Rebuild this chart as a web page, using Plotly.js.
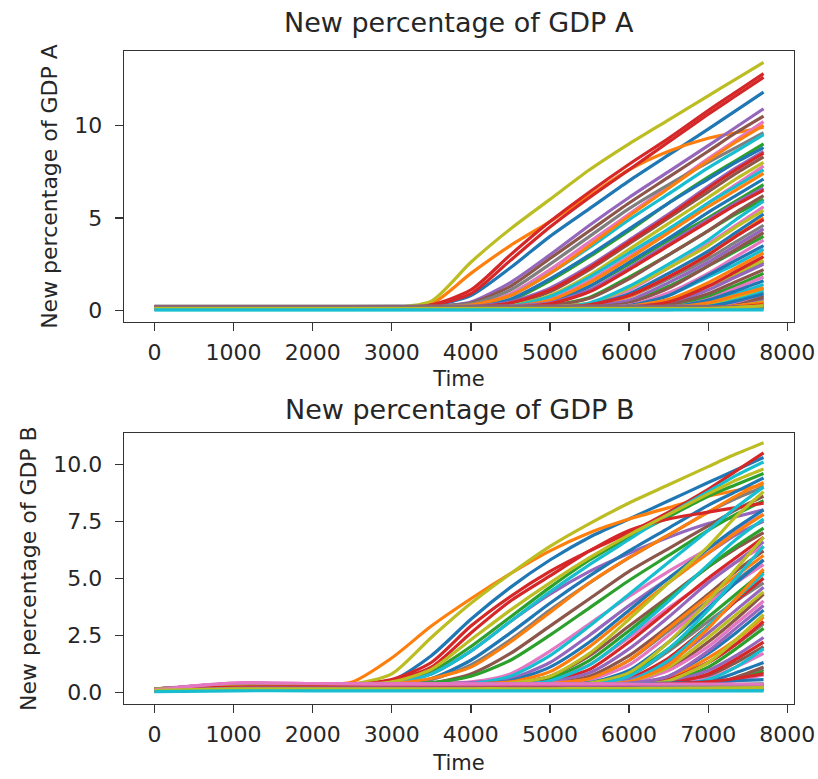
<!DOCTYPE html>
<html>
<head>
<meta charset="utf-8">
<script src="https://cdn.plot.ly/plotly-3.0.1.min.js"></script>
<style>html,body{margin:0;padding:0;background:#fff;}#chart{width:818px;height:779px;}</style>
</head>
<body>
<div id="chart"></div>
<script>
// Time samples
const TIME_A = [0, 2000, 3000, 3500, 4000, 4500, 5000, 5500, 6000, 6500, 7000, 7350, 7700];
const TIME_B = [0, 1000, 2000, 2500, 3000, 3500, 4000, 4500, 5000, 5500, 6000, 6500, 7000, 7350, 7700];
const X_TICKS = [0, 1000, 2000, 3000, 4000, 5000, 6000, 7000, 8000];
const Y_TICKS_A = [0, 5, 10];
const Y_TICKS_B = [0, 2.5, 5, 7.5, 10];

// New percentage of GDP A (one row per region)
const GDP_A = [
[0.13,0.13,0.15,0.25,0.8,2.3,4.0,5.5,7.0,8.4,9.8,10.8,11.8],
[0.14,0.14,0.18,0.35,2.0,3.5,4.8,6.2,7.6,8.6,9.3,9.6,9.9],
[0.12,0.12,0.13,0.14,0.2,0.55,1.6,2.9,4.3,5.8,7.2,8.1,9.0],
[0.15,0.15,0.18,0.3,1.1,3.0,4.8,6.4,7.9,9.3,10.8,11.8,12.8],
[0.16,0.16,0.17,0.2,0.45,1.5,3.0,4.6,6.1,7.5,8.9,9.9,10.9],
[0.18,0.18,0.19,0.22,0.4,1.3,2.8,4.3,5.8,7.2,8.6,9.6,10.5],
[0.1,0.1,0.11,0.13,0.25,0.9,2.2,3.7,5.2,6.7,8.2,9.2,10.2],
[0.2,0.2,0.21,0.23,0.35,1.1,2.5,4.0,5.5,6.8,8.0,8.8,9.6],
[0.12,0.12,0.15,0.5,2.6,4.4,6.0,7.6,9.0,10.3,11.6,12.5,13.4],
[0.06,0.06,0.07,0.09,0.2,0.8,2.0,3.4,4.9,6.3,7.7,8.6,9.5],
[0.09,0.09,0.1,0.11,0.18,0.6,1.7,3.0,4.4,5.8,7.1,8.0,8.8],
[0.15,0.15,0.16,0.18,0.28,0.8,2.0,3.5,5.1,6.6,8.1,9.1,10.0],
[0.11,0.11,0.12,0.12,0.14,0.2,0.45,1.3,2.5,3.8,5.0,5.9,6.8],
[0.14,0.14,0.16,0.28,0.9,2.7,4.5,6.1,7.6,9.1,10.6,11.6,12.6],
[0.17,0.17,0.17,0.18,0.22,0.45,1.2,2.4,3.8,5.2,6.7,7.7,8.6],
[0.13,0.13,0.13,0.14,0.17,0.35,1.0,2.2,3.6,5.0,6.4,7.4,8.3],
[0.07,0.07,0.07,0.08,0.1,0.2,0.6,1.6,2.9,4.3,5.8,6.8,7.8],
[0.19,0.19,0.19,0.19,0.2,0.21,0.25,0.35,0.75,1.7,2.8,3.7,4.6],
[0.1,0.1,0.1,0.11,0.13,0.25,0.8,1.9,3.3,4.7,6.1,7.1,8.0],
[0.05,0.05,0.05,0.06,0.08,0.22,0.75,1.8,3.1,4.4,5.8,6.7,7.6],
[0.08,0.08,0.08,0.08,0.1,0.15,0.45,1.3,2.6,3.9,5.3,6.2,7.1],
[0.14,0.14,0.14,0.14,0.16,0.22,0.55,1.5,2.8,4.2,5.6,6.5,7.4],
[0.1,0.1,0.1,0.1,0.11,0.13,0.25,0.7,1.8,3.0,4.3,5.2,6.0],
[0.16,0.16,0.16,0.17,0.2,0.4,1.1,2.3,3.7,5.1,6.6,7.6,8.5],
[0.18,0.18,0.18,0.18,0.19,0.23,0.4,1.1,2.3,3.6,4.9,5.8,6.6],
[0.12,0.12,0.12,0.12,0.13,0.15,0.25,0.65,1.7,3.0,4.3,5.3,6.2],
[0.09,0.09,0.09,0.09,0.1,0.11,0.16,0.35,1.1,2.3,3.6,4.6,5.6],
[0.2,0.2,0.2,0.2,0.2,0.2,0.21,0.23,0.28,0.55,1.3,1.9,2.6],
[0.11,0.11,0.11,0.11,0.12,0.13,0.18,0.4,1.2,2.3,3.5,4.5,5.4],
[0.06,0.06,0.06,0.06,0.07,0.08,0.13,0.4,1.3,2.5,3.8,4.9,5.9],
[0.1,0.1,0.1,0.1,0.1,0.11,0.14,0.28,0.9,2.0,3.2,4.2,5.2],
[0.15,0.15,0.15,0.15,0.15,0.16,0.18,0.28,0.75,1.8,3.0,4.0,5.0],
[0.13,0.13,0.13,0.13,0.13,0.13,0.15,0.2,0.45,1.3,2.4,3.2,4.0],
[0.15,0.15,0.15,0.15,0.16,0.18,0.35,1.0,2.2,3.5,4.8,5.7,6.5],
[0.17,0.17,0.17,0.17,0.17,0.17,0.19,0.24,0.55,1.5,2.6,3.5,4.4],
[0.14,0.14,0.14,0.14,0.14,0.14,0.15,0.19,0.4,1.2,2.4,3.3,4.2],
[0.08,0.08,0.08,0.08,0.08,0.08,0.09,0.12,0.28,0.95,2.0,2.9,3.8],
[0.2,0.2,0.2,0.2,0.2,0.2,0.2,0.2,0.2,0.22,0.5,0.85,1.2],
[0.12,0.12,0.12,0.12,0.12,0.12,0.12,0.13,0.17,0.5,1.3,2.0,2.7],
[0.05,0.05,0.05,0.05,0.05,0.05,0.06,0.08,0.2,0.8,1.8,2.5,3.3],
[0.09,0.09,0.09,0.09,0.09,0.09,0.1,0.12,0.25,0.8,1.9,2.7,3.5],
[0.16,0.16,0.16,0.16,0.16,0.16,0.16,0.17,0.22,0.6,1.5,2.3,3.1],
[0.11,0.11,0.11,0.11,0.11,0.11,0.11,0.11,0.12,0.22,0.75,1.35,2.0],
[0.14,0.14,0.14,0.14,0.14,0.15,0.17,0.3,0.8,1.8,3.0,4.0,4.9],
[0.18,0.18,0.18,0.18,0.18,0.18,0.18,0.18,0.2,0.4,1.1,1.8,2.5],
[0.15,0.15,0.15,0.15,0.15,0.15,0.15,0.15,0.16,0.3,0.9,1.55,2.2],
[0.07,0.07,0.07,0.07,0.07,0.07,0.07,0.07,0.07,0.14,0.6,1.2,1.8],
[0.21,0.21,0.21,0.21,0.21,0.21,0.21,0.21,0.21,0.21,0.23,0.33,0.5],
[0.1,0.1,0.1,0.1,0.1,0.1,0.1,0.1,0.1,0.1,0.28,0.65,1.1],
[0.05,0.05,0.05,0.05,0.05,0.05,0.05,0.05,0.05,0.08,0.45,0.9,1.4],
[0.1,0.1,0.1,0.1,0.1,0.1,0.1,0.1,0.1,0.14,0.55,1.05,1.6],
[0.15,0.15,0.15,0.15,0.15,0.15,0.15,0.15,0.15,0.17,0.4,0.8,1.2],
[0.12,0.12,0.12,0.12,0.12,0.12,0.12,0.12,0.12,0.12,0.2,0.45,0.8],
[0.16,0.16,0.16,0.16,0.16,0.16,0.16,0.16,0.18,0.45,1.3,2.1,2.9],
[0.17,0.17,0.17,0.17,0.17,0.17,0.17,0.17,0.17,0.17,0.19,0.35,0.65],
[0.14,0.14,0.14,0.14,0.14,0.14,0.14,0.14,0.14,0.14,0.17,0.38,0.7],
[0.08,0.08,0.08,0.08,0.08,0.08,0.08,0.08,0.08,0.08,0.15,0.45,0.9],
[0.22,0.22,0.22,0.22,0.22,0.22,0.22,0.22,0.22,0.22,0.22,0.22,0.22],
[0.13,0.13,0.13,0.13,0.13,0.13,0.13,0.13,0.13,0.13,0.13,0.22,0.45],
[0.04,0.04,0.04,0.04,0.04,0.04,0.04,0.04,0.04,0.04,0.2,0.55,1.0],
[0.09,0.09,0.09,0.09,0.09,0.09,0.09,0.09,0.09,0.09,0.2,0.5,0.9],
[0.16,0.16,0.16,0.16,0.16,0.16,0.16,0.16,0.16,0.16,0.16,0.25,0.4],
[0.12,0.12,0.12,0.12,0.12,0.12,0.12,0.12,0.12,0.12,0.12,0.12,0.15],
[0.1,0.1,0.1,0.1,0.1,0.1,0.1,0.1,0.1,0.1,0.1,0.18,0.3],
[0.19,0.19,0.19,0.19,0.19,0.19,0.19,0.19,0.19,0.19,0.19,0.19,0.19],
[0.17,0.17,0.17,0.17,0.17,0.17,0.17,0.17,0.17,0.17,0.17,0.17,0.22],
[0.06,0.06,0.06,0.06,0.06,0.06,0.06,0.06,0.06,0.06,0.06,0.06,0.06],
[0.14,0.14,0.14,0.14,0.14,0.14,0.14,0.14,0.14,0.14,0.14,0.14,0.14],
[0.1,0.1,0.1,0.1,0.1,0.1,0.1,0.1,0.1,0.1,0.1,0.15,0.25],
[0.02,0.02,0.02,0.02,0.02,0.02,0.02,0.02,0.02,0.02,0.02,0.02,0.02]
];

// New percentage of GDP B (one row per region)
const GDP_B = [
[0.1,0.22,0.27,0.3,0.5,1.6,3.2,4.6,5.8,6.8,7.6,8.4,9.2,9.75,10.3],
[0.15,0.3,0.33,0.45,1.5,2.9,4.1,5.2,6.2,7.0,7.6,8.1,8.6,8.85,9.1],
[0.12,0.25,0.28,0.3,0.4,0.9,2.0,3.3,4.6,5.8,6.8,7.7,8.6,9.1,9.6],
[0.14,0.3,0.32,0.36,0.55,1.3,2.9,4.2,5.3,6.2,7.0,7.9,8.9,9.7,10.5],
[0.1,0.32,0.34,0.36,0.45,0.8,1.8,3.1,4.3,5.3,6.1,6.8,7.4,7.7,8.0],
[0.08,0.2,0.22,0.24,0.28,0.4,0.8,1.7,2.9,4.1,5.3,6.3,7.3,8.0,8.6],
[0.12,0.38,0.36,0.35,0.36,0.38,0.45,0.8,1.8,3.0,4.2,5.3,6.3,7.1,7.8],
[0.14,0.27,0.28,0.3,0.34,0.55,1.2,2.3,3.6,4.8,5.9,6.9,7.9,8.5,9.0],
[0.12,0.26,0.3,0.35,0.8,2.4,3.9,5.2,6.4,7.4,8.3,9.1,9.9,10.45,10.95],
[0.06,0.2,0.25,0.28,0.36,0.8,1.8,3.1,4.4,5.6,6.7,7.8,8.8,9.5,10.1],
[0.09,0.24,0.27,0.29,0.35,0.6,1.4,2.6,3.9,5.1,6.2,7.2,8.2,8.8,9.4],
[0.13,0.28,0.3,0.32,0.38,0.6,1.1,2.2,3.5,4.8,5.9,6.9,7.9,8.6,9.2],
[0.11,0.27,0.29,0.3,0.33,0.42,0.7,1.4,2.5,3.7,4.9,6.0,7.1,7.8,8.4],
[0.13,0.28,0.3,0.34,0.5,1.1,2.6,4.0,5.1,6.2,7.1,7.6,7.9,8.1,8.3],
[0.1,0.3,0.32,0.33,0.34,0.36,0.42,0.6,1.3,2.5,3.8,5.0,6.1,6.9,7.5],
[0.08,0.22,0.24,0.25,0.26,0.28,0.31,0.4,0.7,1.6,2.9,4.2,5.5,6.3,7.0],
[0.13,0.4,0.37,0.36,0.36,0.37,0.38,0.42,0.6,1.2,2.4,3.7,4.9,5.7,6.4],
[0.15,0.26,0.27,0.28,0.28,0.29,0.3,0.32,0.38,0.6,1.4,2.7,4.0,4.9,5.8],
[0.12,0.26,0.29,0.32,0.45,1.0,2.3,3.6,4.8,5.9,6.9,7.8,8.7,9.3,9.8],
[0.06,0.2,0.23,0.25,0.27,0.3,0.36,0.7,1.6,2.9,4.3,5.7,7.1,8.1,9.0],
[0.09,0.24,0.26,0.27,0.28,0.3,0.34,0.5,1.1,2.2,3.6,5.0,6.3,7.2,8.0],
[0.14,0.3,0.31,0.32,0.33,0.34,0.36,0.45,0.9,2.0,3.4,4.8,6.1,7.0,7.8],
[0.11,0.27,0.28,0.29,0.3,0.31,0.33,0.38,0.6,1.4,2.7,4.1,5.5,6.4,7.2],
[0.12,0.3,0.31,0.32,0.33,0.34,0.35,0.37,0.5,1.0,2.2,3.6,5.0,5.9,6.8],
[0.1,0.33,0.34,0.34,0.34,0.35,0.35,0.37,0.45,0.85,1.9,3.3,4.8,5.7,6.6],
[0.08,0.22,0.23,0.24,0.24,0.25,0.26,0.28,0.35,0.7,1.6,2.9,4.3,5.3,6.2],
[0.12,0.38,0.36,0.35,0.35,0.35,0.35,0.36,0.4,0.55,1.2,2.5,3.9,4.8,5.6],
[0.15,0.26,0.27,0.27,0.28,0.28,0.28,0.29,0.3,0.38,0.7,1.8,3.1,4.0,4.8],
[0.12,0.26,0.28,0.29,0.3,0.31,0.33,0.4,0.7,1.7,3.2,4.8,6.4,7.7,8.8],
[0.06,0.2,0.22,0.23,0.24,0.25,0.27,0.3,0.5,1.2,2.5,4.0,5.6,6.7,7.6],
[0.09,0.24,0.25,0.26,0.26,0.27,0.27,0.28,0.3,0.42,0.95,2.2,3.7,4.8,5.8],
[0.14,0.3,0.31,0.31,0.32,0.32,0.33,0.34,0.38,0.6,1.4,2.8,4.2,5.1,6.0],
[0.11,0.27,0.28,0.28,0.29,0.29,0.29,0.3,0.31,0.4,0.8,1.9,3.3,4.3,5.3],
[0.12,0.3,0.31,0.31,0.31,0.32,0.32,0.32,0.33,0.37,0.6,1.5,2.9,4.0,5.0],
[0.1,0.33,0.34,0.34,0.34,0.34,0.34,0.34,0.35,0.38,0.55,1.3,2.6,3.6,4.6],
[0.08,0.22,0.23,0.23,0.23,0.24,0.24,0.24,0.24,0.27,0.4,1.0,2.2,3.2,4.3],
[0.12,0.38,0.36,0.35,0.35,0.35,0.35,0.35,0.35,0.36,0.45,0.95,2.0,3.0,4.0],
[0.15,0.26,0.27,0.27,0.27,0.27,0.27,0.27,0.27,0.28,0.32,0.55,1.3,2.1,3.0],
[0.12,0.26,0.27,0.28,0.28,0.28,0.29,0.29,0.3,0.4,0.85,2.2,4.0,5.4,6.8],
[0.06,0.2,0.21,0.22,0.22,0.23,0.23,0.23,0.24,0.3,0.7,1.9,3.6,5.0,6.4],
[0.09,0.24,0.25,0.25,0.25,0.26,0.26,0.26,0.26,0.27,0.33,0.7,1.7,2.6,3.6],
[0.14,0.3,0.31,0.31,0.31,0.31,0.31,0.31,0.31,0.32,0.36,0.6,1.5,2.3,3.3],
[0.11,0.27,0.28,0.28,0.28,0.28,0.28,0.28,0.28,0.28,0.3,0.45,1.1,1.9,2.8],
[0.12,0.3,0.31,0.31,0.31,0.31,0.31,0.31,0.31,0.31,0.35,0.55,1.3,2.1,3.1],
[0.1,0.33,0.34,0.34,0.34,0.34,0.34,0.34,0.34,0.34,0.35,0.45,0.95,1.6,2.4],
[0.08,0.22,0.23,0.23,0.23,0.23,0.23,0.23,0.23,0.23,0.24,0.3,0.7,1.3,2.0],
[0.12,0.38,0.36,0.35,0.35,0.35,0.35,0.35,0.35,0.35,0.35,0.38,0.6,1.1,1.7],
[0.15,0.26,0.27,0.27,0.27,0.27,0.27,0.27,0.27,0.27,0.27,0.28,0.35,0.6,1.0],
[0.12,0.26,0.27,0.27,0.27,0.27,0.27,0.27,0.27,0.3,0.45,1.1,2.4,3.4,4.4],
[0.06,0.2,0.21,0.21,0.21,0.22,0.22,0.22,0.22,0.25,0.45,1.4,2.9,4.1,5.2],
[0.09,0.24,0.25,0.25,0.25,0.25,0.25,0.25,0.25,0.25,0.25,0.27,0.45,0.85,1.3],
[0.14,0.3,0.31,0.31,0.31,0.31,0.31,0.31,0.31,0.33,0.45,1.2,2.8,4.1,5.4],
[0.11,0.27,0.28,0.28,0.28,0.28,0.28,0.28,0.28,0.28,0.28,0.28,0.33,0.55,0.9],
[0.12,0.3,0.31,0.31,0.31,0.31,0.31,0.31,0.31,0.31,0.32,0.38,0.8,1.45,2.2],
[0.1,0.33,0.34,0.34,0.34,0.34,0.34,0.34,0.34,0.35,0.4,0.7,1.8,2.8,3.8],
[0.08,0.22,0.23,0.23,0.23,0.23,0.23,0.23,0.23,0.23,0.23,0.24,0.33,0.65,1.1],
[0.12,0.38,0.36,0.35,0.35,0.35,0.35,0.35,0.35,0.35,0.35,0.35,0.37,0.5,0.75],
[0.15,0.3,0.31,0.31,0.31,0.31,0.31,0.31,0.31,0.31,0.31,0.31,0.31,0.31,0.31],
[0.12,0.26,0.27,0.27,0.27,0.27,0.27,0.27,0.27,0.27,0.3,0.5,1.3,2.3,3.4],
[0.06,0.2,0.21,0.21,0.21,0.21,0.21,0.21,0.21,0.21,0.21,0.24,0.55,1.1,1.9],
[0.05,0.15,0.17,0.18,0.18,0.19,0.2,0.22,0.25,0.3,0.35,0.4,0.45,0.5,0.55],
[0.1,0.2,0.21,0.21,0.21,0.21,0.21,0.21,0.22,0.22,0.23,0.24,0.26,0.28,0.3],
[0.08,0.18,0.19,0.19,0.19,0.19,0.2,0.2,0.21,0.22,0.24,0.27,0.3,0.33,0.36],
[0.1,0.22,0.23,0.23,0.23,0.23,0.23,0.24,0.25,0.27,0.3,0.36,0.45,0.6,0.8],
[0.07,0.17,0.18,0.18,0.18,0.18,0.18,0.18,0.18,0.19,0.19,0.2,0.2,0.21,0.22],
[0.05,0.12,0.12,0.12,0.12,0.12,0.12,0.12,0.12,0.12,0.12,0.12,0.12,0.12,0.12],
[0.1,0.4,0.38,0.36,0.35,0.35,0.35,0.35,0.35,0.35,0.35,0.35,0.35,0.35,0.35],
[0.04,0.1,0.1,0.1,0.1,0.1,0.1,0.1,0.1,0.1,0.1,0.1,0.1,0.1,0.1],
[0.08,0.14,0.14,0.14,0.14,0.14,0.15,0.15,0.15,0.16,0.16,0.17,0.18,0.19,0.2],
[0.02,0.06,0.06,0.06,0.06,0.06,0.06,0.06,0.06,0.06,0.06,0.06,0.06,0.06,0.06]
];

const PALETTE = ['#1f77b4','#ff7f0e','#2ca02c','#d62728','#9467bd','#8c564b','#e377c2','#7f7f7f','#bcbd22','#17becf'];
const FONT = 'DejaVu Sans, Liberation Sans, sans-serif';
const TXT = '#262626';

const traces = [];
GDP_A.forEach((s, i) => traces.push({
  x: TIME_A, y: s, xaxis: 'x', yaxis: 'y', type: 'scatter', mode: 'lines',
  line: {color: PALETTE[i % 10], width: 3.2, shape: 'spline', smoothing: 0.7},
  hoverinfo: 'skip', showlegend: false
}));
GDP_B.forEach((s, i) => traces.push({
  x: TIME_B, y: s, xaxis: 'x2', yaxis: 'y2', type: 'scatter', mode: 'lines',
  line: {color: PALETTE[i % 10], width: 3.2, shape: 'spline', smoothing: 0.7},
  hoverinfo: 'skip', showlegend: false
}));

const axisCommon = {
  showline: true, mirror: true, linecolor: '#333', linewidth: 1.4,
  ticks: 'outside', ticklen: 8, tickwidth: 1.3, tickcolor: '#333',
  showgrid: false, zeroline: false,
  tickfont: {family: FONT, size: 22, color: TXT}
};

const layout = {
  width: 818, height: 779,
  margin: {l: 124, r: 24, t: 51, b: 75},
  paper_bgcolor: '#fff', plot_bgcolor: '#fff',
  showlegend: false,
  font: {family: FONT, color: TXT},
  xaxis: Object.assign({}, axisCommon, {
    domain: [0, 1], anchor: 'y', range: [-385, 8085], tickvals: X_TICKS, ticklabelstandoff: 2,
    title: {text: 'Time', font: {family: FONT, size: 21, color: TXT}, standoff: 7}
  }),
  yaxis: Object.assign({}, axisCommon, {
    domain: [0.585, 1], anchor: 'x', range: [-0.63, 14.02], tickvals: Y_TICKS_A, ticklabelstandoff: 8,
    title: {text: 'New percentage of GDP A', font: {family: FONT, size: 22, color: TXT}, standoff: 10}
  }),
  xaxis2: Object.assign({}, axisCommon, {
    domain: [0, 1], anchor: 'y2', range: [-385, 8085], tickvals: X_TICKS, ticklabelstandoff: 2,
    title: {text: 'Time', font: {family: FONT, size: 21, color: TXT}, standoff: 9}
  }),
  yaxis2: Object.assign({}, axisCommon, {
    domain: [0, 0.4145], anchor: 'x2', range: [-0.52, 11.36], tickvals: Y_TICKS_B, tickformat: '.1f', ticklabelstandoff: 8,
    title: {text: 'New percentage of GDP B', font: {family: FONT, size: 22, color: TXT}, standoff: 10}
  }),
  annotations: [
    {text: 'New percentage of GDP A', xref: 'paper', yref: 'paper', x: 0.5, y: 1.0444,
     xanchor: 'center', yanchor: 'middle', showarrow: false, font: {family: FONT, size: 27, color: TXT}},
    {text: 'New percentage of GDP B', xref: 'paper', yref: 'paper', x: 0.5, y: 0.4505,
     xanchor: 'center', yanchor: 'middle', showarrow: false, font: {family: FONT, size: 27, color: TXT}}
  ]
};

Plotly.newPlot('chart', traces, layout, {staticPlot: true, displayModeBar: false});
</script>
</body>
</html>
